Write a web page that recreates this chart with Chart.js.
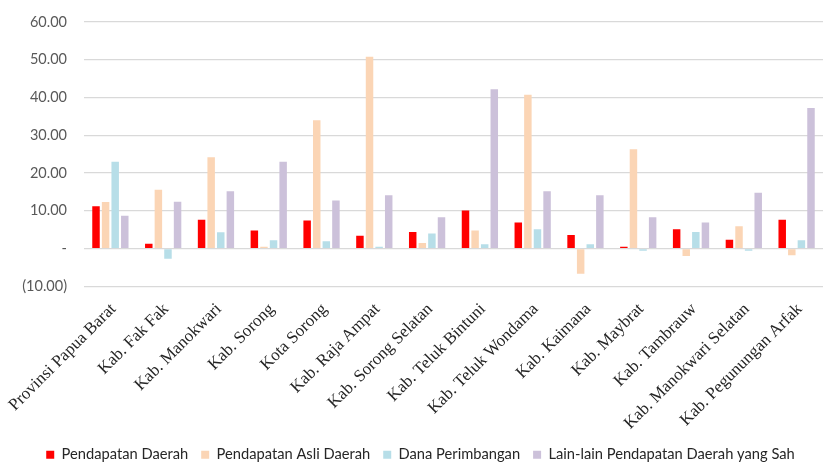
<!DOCTYPE html>
<html>
<head>
<meta charset="utf-8">
<script src="https://cdn.jsdelivr.net/npm/chart.js@4.4.1/dist/chart.umd.min.js"></script>
<style>
  html, body { margin: 0; padding: 0; background: #ffffff; }
  #wrap { width: 838px; height: 469px; }
</style>
</head>
<body>
<div id="wrap"><canvas id="chart" width="838" height="469"></canvas></div>
<script>
// Regions of Papua Barat
const categories = [
  "Provinsi Papua Barat", "Kab. Fak Fak", "Kab. Manokwari", "Kab. Sorong",
  "Kota Sorong", "Kab. Raja Ampat", "Kab. Sorong Selatan", "Kab. Teluk Bintuni",
  "Kab. Teluk Wondama", "Kab. Kaimana", "Kab. Maybrat", "Kab. Tambrauw",
  "Kab. Manokwari Selatan", "Kab. Pegunungan Arfak"
];

const seriesNames = [
  "Pendapatan Daerah", "Pendapatan Asli Daerah", "Dana Perimbangan",
  "Lain-lain Pendapatan Daerah yang Sah"
];

const pendapatanDaerah     = [11.2, 1.3, 7.6, 4.8, 7.4, 3.4, 4.4, 10.1, 6.9, 3.6, 0.5, 5.1, 2.3, 7.6];
const pendapatanAsliDaerah = [12.3, 15.6, 24.2, 0.5, 34.0, 50.8, 1.5, 4.8, 40.7, -6.7, 26.3, -2.0, 5.9, -1.8];
const danaPerimbangan      = [23.0, -2.7, 4.3, 2.2, 1.9, 0.45, 4.0, 1.15, 5.1, 1.15, -0.6, 4.4, -0.6, 2.2];
const lainLain             = [8.7, 12.4, 15.2, 23.0, 12.7, 14.1, 8.3, 42.2, 15.2, 14.1, 8.3, 6.9, 14.8, 37.2];

const yTickValues = [-10, 0, 10, 20, 30, 40, 50, 60];
const yTickLabels = ["(10.00)", "-", "10.00", "20.00", "30.00", "40.00", "50.00", "60.00"];

const colors = ["#FF0000", "#FBD5B5", "#B7DEE8", "#CCC1DA"];
const seriesValues = [pendapatanDaerah, pendapatanAsliDaerah, danaPerimbangan, lainLain];

const datasets = seriesNames.map((name, i) => ({
  label: name,
  data: seriesValues[i],
  backgroundColor: colors[i],
  borderWidth: 0,
  categoryPercentage: 0.727,
  barPercentage: 0.78
}));

// Nudge the legend a little right and down after layout
const legendNudge = {
  id: "legendNudge",
  afterLayout(chart) {
    const lg = chart.legend;
    if (!lg) return;
    lg.left += 9; lg.right += 9;
    lg.top += 3; lg.bottom += 3;
  }
};

new Chart(document.getElementById("chart"), {
  type: "bar",
  data: { labels: categories, datasets },
  plugins: [legendNudge],
  options: {
    responsive: false,
    animation: false,
    layout: { padding: { left: 0, right: 15, top: 22, bottom: 0 } },
    plugins: {
      tooltip: { enabled: false },
      legend: {
        position: "bottom",
        labels: {
          boxWidth: 8,
          boxHeight: 8,
          padding: 13,
          color: "#262626",
          font: { family: "Lato", size: 14.7 }
        }
      }
    },
    scales: {
      x: {
        grid: { display: false, drawTicks: false },
        border: { display: false },
        ticks: {
          minRotation: 45,
          maxRotation: 45,
          autoSkip: false,
          padding: 13,
          labelOffset: 3,
          color: "#262626",
          font: { family: "Liberation Serif", size: 17 }
        },
        afterFit: (scale) => {
          scale.height = 145;
          scale.paddingLeft = 0;
          scale.paddingRight = 0;
        }
      },
      y: {
        min: -10,
        max: 60,
        afterBuildTicks: (scale) => {
          scale.ticks = yTickValues.map(v => ({ value: v }));
        },
        grid: { color: "#D9D9D9", lineWidth: 1.2, drawTicks: false },
        border: { display: false },
        ticks: {
          padding: 17,
          color: "#595959",
          font: { family: "Lato", size: 14.5 },
          callback: (value) => {
            const i = yTickValues.indexOf(value);
            return i >= 0 ? yTickLabels[i] : "";
          }
        },
        afterFit: (scale) => {
          scale.width = 84;
          scale.paddingTop = 0;
          scale.paddingBottom = 0;
        }
      }
    }
  }
});
</script>
</body>
</html>
